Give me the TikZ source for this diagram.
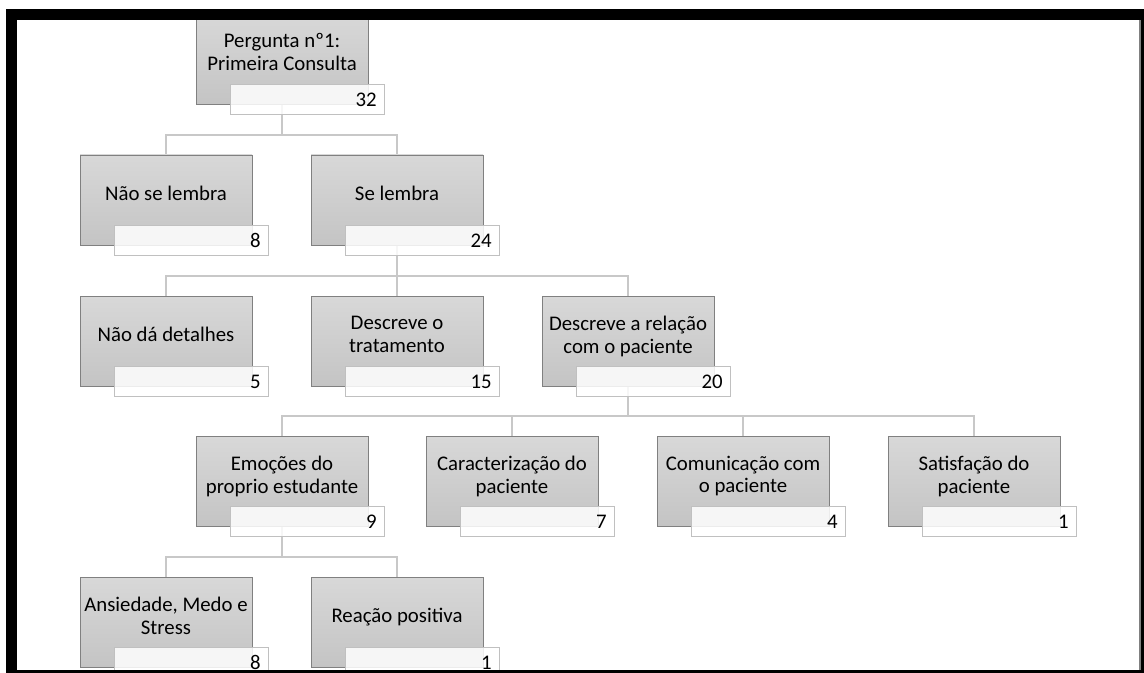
\documentclass[tikz,border=0pt]{standalone}
\usepackage{fontspec}
\setmainfont{Carlito}
\usetikzlibrary{positioning,calc,backgrounds}
\definecolor{ctop}{RGB}{216,216,216}
\definecolor{cbot}{RGB}{196,196,196}
\definecolor{cedge}{RGB}{128,128,128}
\definecolor{cnum}{RGB}{192,192,192}
\definecolor{cline}{RGB}{200,200,200}

\begin{document}
\begin{tikzpicture}[x=0.75pt,y=0.75pt,
  cat/.style={draw=cedge,top color=ctop,bottom color=cbot,align=center,minimum width=129pt,minimum height=67.5pt,inner sep=1pt,text depth=10pt},
  num/.style={draw=cnum,fill=white,fill opacity=0.85,text opacity=1,anchor=north west,text width=104pt,align=right,minimum height=22.5pt,inner xsep=6pt,inner ysep=0pt},
  conn/.style={draw=cline,line width=1.5pt},
  every node/.style={font=\fontsize{15.6}{17.2}\selectfont}]
\useasboundingbox (0,0) rectangle (1144,-673);

% ===== boxes with their counts =====
\foreach \n/\x/\y/\t/\c in {
  q1/282/59/{Pergunta nº1:\\Primeira Consulta}/32,
  nao/166/200/{Não se lembra}/8,
  sim/397/200/{Se lembra}/24,
  nd/166/341/{Não dá detalhes}/5,
  trat/397/341/{Descreve o\\tratamento}/15,
  rel/628/341/{Descreve a relação\\com o paciente}/20,
  emo/282/481/{Emoções do\\proprio estudante}/9,
  car/512/481/{Caracterização do\\paciente}/7,
  com/743/481/{Comunicação com\\o paciente}/4,
  sat/974/481/{Satisfação do\\paciente}/1,
  ans/166/622/{Ansiedade, Medo e\\Stress}/8,
  pos/397/622/{Reação positiva}/1}{
  \node[cat] (\n) at (\x,-\y) {\t};
  \node[num] (\n-n) at ($(\n.south west)+(34,20)$) {\c};
}

% ===== tree lines =====
\begin{scope}[on background layer]
\foreach \a/\b in {q1/nao,q1/sim,sim/nd,sim/trat,sim/rel,rel/emo,rel/car,rel/com,rel/sat,emo/ans,emo/pos}{
  \draw[conn] (\a) |- ($(\a-n.south)!.5!(\b.north)$) -| (\b);
}
\end{scope}

% ===== frame =====
\fill (6,-9) rectangle (17,-673);
\fill (6,-9) rectangle (1144,-20);
\fill (1141,-9) rectangle (1144,-673);
\fill (6,-670) rectangle (1144,-673);
\fill[gray] (1139,-20) rectangle (1141,-670);
\end{tikzpicture}
\end{document}
